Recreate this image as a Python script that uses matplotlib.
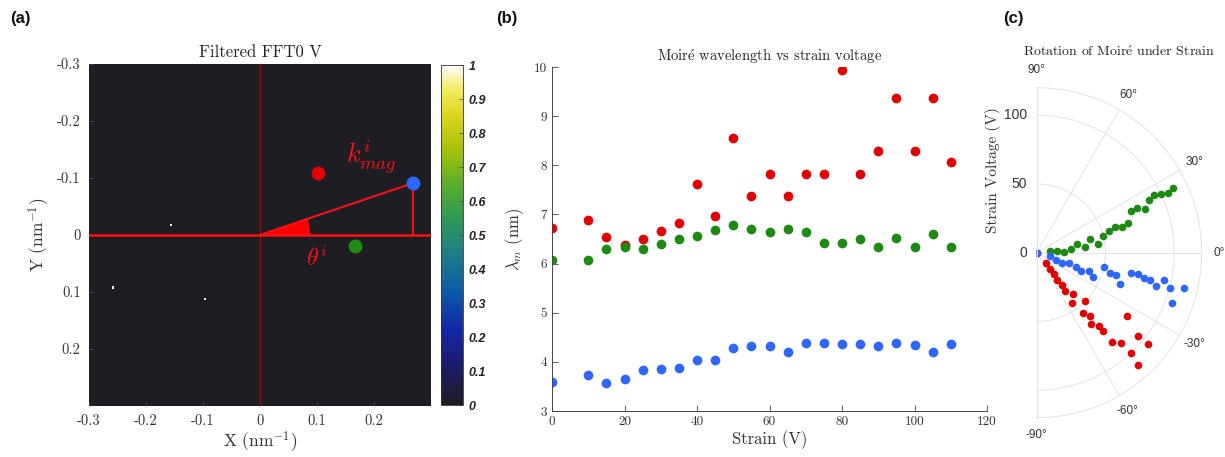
import numpy as np
import matplotlib
matplotlib.use("Agg")
import matplotlib.pyplot as plt
from matplotlib.colors import LinearSegmentedColormap
from matplotlib.patches import Wedge
from matplotlib.transforms import offset_copy

plt.rcParams['mathtext.fontset'] = 'cm'
plt.rcParams['axes.unicode_minus'] = False

SERIF = ['cmr10', 'DejaVu Serif']
SANS = 'Liberation Sans'

# ---------------- data ----------------
# panel (a): FFT peak positions (nm^-1)
white_x = [-0.156, -0.257, -0.0965]
white_y = [-0.017, 0.092, 0.112]
peak_x = [0.101, 0.269, 0.166]
peak_y = [-0.108, -0.0913, 0.019]
ticks_a = [-0.3, -0.2, -0.1, 0, 0.1, 0.2]
tick_labels_a = ['-0.3', '-0.2', '-0.1', '0', '0.1', '0.2']
cbar_ticks = [0, 0.1, 0.2, 0.3, 0.4, 0.5, 0.6, 0.7, 0.8, 0.9, 1]
cbar_labels = ['0', '0.1', '0.2', '0.3', '0.4', '0.5', '0.6', '0.7', '0.8', '0.9', '1']

# panel (b): wavelength vs strain
strain = [0, 10, 15, 20, 25, 30, 35, 40, 45, 50, 55, 60, 65, 70, 75, 80, 85, 90, 95, 100, 105, 110]
lam_red = [6.72, 6.88, 6.54, 6.38, 6.50, 6.67, 6.82, 7.62, 6.96, 8.56, 7.37, 7.82,
           7.37, 7.82, 7.82, 9.93, 7.82, 8.30, 9.37, 8.30, 9.37, 8.06]
lam_green = [6.08, 6.08, 6.30, 6.34, 6.30, 6.40, 6.50, 6.56, 6.69, 6.78, 6.71, 6.65,
             6.71, 6.65, 6.42, 6.42, 6.50, 6.33, 6.52, 6.33, 6.61, 6.33]
lam_blue = [3.60, 3.74, 3.57, 3.65, 3.84, 3.86, 3.88, 4.04, 4.03, 4.29, 4.32, 4.32,
            4.20, 4.39, 4.39, 4.37, 4.37, 4.32, 4.39, 4.34, 4.20, 4.37]

# panel (c): rotation angle (deg) vs strain
ang_green = [0, 8.5, 5.5, 0.7, 6.1, 12.5, 6.3, 14.3, 8.4, 14.3, 16.4, 18.4,
             16.4, 18.1, 23.6, 23.7, 21.9, 25.3, 26.3, 25.4, 24.5, 25.3]
ang_blue = [0, -15.4, -22.1, -21.9, -17.6, -19.7, -22.3, -19.4, -23.6, -11.7, -15.5, -15.9,
            -20.4, -12.2, -12.1, -13.4, -13.4, -15.8, -12.2, -14.7, -20.5, -13.4]
ang_red = [0, -46.0, -51.6, -51.9, -52.9, -51.9, -53.4, -48.2, -55.0, -45.2, -52.7, -49.9,
           -52.7, -49.8, -49.8, -34.9, -49.7, -46.8, -39.4, -46.8, -39.4, -48.2]
theta_ticks = [-90, -60, -30, 0, 30, 60, 90]
theta_labels = ['-90°', '-60°', '-30°', '0°', '30°', '60°', '90°']
r_ticks = [0, 50, 100]

RED = '#e00000'
GREEN = '#1e8a14'
BLUE = '#2f66ff'

cmap = LinearSegmentedColormap.from_list('fftmap', [
    (0.0, '#1e1d24'), (0.12, '#1c1b6e'), (0.22, '#1426a8'), (0.33, '#0b5aa8'),
    (0.45, '#1f7f86'), (0.55, '#2f9a52'), (0.65, '#5aae2a'), (0.75, '#a6c10a'),
    (0.85, '#dcd41c'), (0.93, '#f3ec60'), (1.0, '#ffffff')])

W, H = 1225, 457
fig = plt.figure(figsize=(W / 100, H / 100), dpi=100)

def fpos(x0, y0, x1, y1):
    return [x0 / W, 1 - y1 / H, (x1 - x0) / W, (y1 - y0) / H]

# ---------------- panel (a) ----------------
axa = fig.add_axes(fpos(89, 64, 431, 406))
N = 600
img = np.zeros((N, N))
for wx, wy in zip(white_x, white_y):
    i = int((wy + 0.3) / 0.6 * N)
    j = int((wx + 0.3) / 0.6 * N)
    img[i - 2:i + 2, j - 2:j + 2] = 1.0
im = axa.imshow(img, cmap=cmap, vmin=0, vmax=1, extent=[-0.3, 0.3, 0.3, -0.3],
                origin='upper', interpolation='nearest')
axa.set_xlim(-0.3, 0.3)
axa.set_ylim(0.3, -0.3)
axa.axvline(0, color='#b00000', lw=0.9)
axa.axhline(0, color='#ff1010', lw=1.8)
bx, by = peak_x[1], peak_y[1]
axa.plot([0, bx], [0, by], color='#ff1010', lw=1.5)
axa.plot([bx, bx], [by, 0], color='#ff1010', lw=1.5)
ang = np.degrees(np.arctan2(by, bx))
axa.add_patch(Wedge((0, 0), 0.088, ang, 0, color='#ff0000', lw=0))
for px, py, c in zip(peak_x, peak_y, ['#e00000', '#2f66ff', '#1e8a14']):
    axa.plot(px, py, 'o', color=c, ms=10, mec='none')
axa.text(0.195, -0.137, r'$k^{i}_{mag}$', color='#ff1010', fontsize=19, ha='center', va='center')
axa.text(0.1, 0.042, r'$\theta^{i}$', color='#ff1010', fontsize=17, ha='center', va='center')
axa.set_xticks(ticks_a)
axa.set_xticklabels(tick_labels_a, fontfamily=SERIF, fontsize=10.5, color='#333333')
axa.set_yticks(ticks_a)
axa.set_yticklabels(tick_labels_a, fontfamily=SERIF, fontsize=10.5, color='#333333')
axa.tick_params(direction='in', length=3, color='#555555', width=0.5, pad=6)
axa.set_xlabel(r'X (nm$^{-1}$)', fontfamily=SERIF, fontsize=12.5, color='#333333', labelpad=1)
axa.set_ylabel(r'Y (nm$^{-1}$)', fontfamily=SERIF, fontsize=12.5, color='#333333', labelpad=4)
axa.set_title('Filtered FFT0 V', fontfamily=SERIF, fontsize=12, color='#222222', pad=5)
for s in axa.spines.values():
    s.set_visible(False)

cax = fig.add_axes(fpos(441, 65, 463, 405))
cb = fig.colorbar(im, cax=cax, ticks=cbar_ticks)
cb.ax.set_yticklabels(cbar_labels, fontfamily=SANS, fontweight='bold', fontstyle='italic',
                      fontsize=9, color='#222222')
cb.ax.tick_params(direction='in', length=3, width=0.5, color='#444444', pad=4)
cb.outline.set_linewidth(0.6)
cb.outline.set_edgecolor('#333333')

# ---------------- panel (b) ----------------
axb = fig.add_axes(fpos(552, 67, 987, 411))
axb.plot(strain, lam_red, 'o', color=RED, ms=7, mec='none')
axb.plot(strain, lam_green, 'o', color=GREEN, ms=7, mec='none')
axb.plot(strain, lam_blue, 'o', color=BLUE, ms=7, mec='none')
axb.set_xlim(0, 120)
axb.set_ylim(3, 10)
axb.set_xticks([0, 20, 40, 60, 80, 100, 120])
axb.set_yticks([3, 4, 5, 6, 7, 8, 9, 10])
for lbl in axb.get_xticklabels() + axb.get_yticklabels():
    lbl.set_fontfamily(SERIF)
    lbl.set_fontsize(9.5)
    lbl.set_color('#333333')
axb.tick_params(direction='in', length=4, width=0.6, color='#444444')
axb.spines['top'].set_visible(False)
axb.spines['right'].set_visible(False)
for s in ['left', 'bottom']:
    axb.spines[s].set_color('#444444')
    axb.spines[s].set_linewidth(0.7)
axb.set_xlabel('Strain (V)', fontfamily=SERIF, fontsize=12, color='#333333', labelpad=2)
axb.set_ylabel(r'$\lambda_m$ (nm)', fontfamily=SERIF, fontsize=12, color='#333333', labelpad=6)
axb.set_title(r'Moir$\mathrm{\acute{e}}$ wavelength vs strain voltage', fontfamily=SERIF,
              fontsize=10.5, color='#222222', pad=4)

# ---------------- panel (c) ----------------
# square box whose middle half holds the half-disc (centre x=1036.7, R=165)
axc = fig.add_axes(fpos(954.2, 87.7, 1284.2, 417.7), projection='polar')
axc.set_thetamin(-90)
axc.set_thetamax(90)
axc.set_rlim(0, 120)
axc.plot(np.radians(ang_green), strain, 'o', color=GREEN, ms=5.5, mec='none')
axc.plot(np.radians(ang_red), strain, 'o', color=RED, ms=5.5, mec='none')
axc.plot(np.radians(ang_blue), strain, 'o', color=BLUE, ms=5.5, mec='none')
axc.set_thetagrids(theta_ticks, theta_labels, fontfamily=SANS, fontsize=8.5, color='#333333')
axc.tick_params(axis='x', pad=2)
axc.set_rticks(r_ticks)
axc.set_yticklabels([])
axc.grid(True, color='#e2e2e2', lw=0.7)
for s in axc.spines.values():
    s.set_color('#e2e2e2')
    s.set_linewidth(0.7)
tr = offset_copy(axc.transData, fig=fig, x=-7, y=0, units='points')
for r in r_ticks:
    axc.text(np.pi / 2, r, str(r), transform=tr, ha='right', va='center',
             fontfamily=SANS, fontsize=10, color='#333333')
fig.text(993 / W, 1 - 170 / H, 'Strain Voltage (V)', rotation=90, ha='center', va='center',
         fontfamily=SERIF, fontsize=11, color='#333333')
fig.text(1119 / W, 1 - 52 / H, r'Rotation of Moir$\mathrm{\acute{e}}$ under Strain',
         ha='center', va='center', fontfamily=SERIF, fontsize=10, color='#222222')

# panel labels
for x, lab in [(10, '(a)'), (496, '(b)'), (1003, '(c)')]:
    fig.text(x / W, 1 - 18 / H, lab, ha='left', va='center', fontfamily=SANS,
             fontweight='bold', fontsize=12, color='#111111')

fig.savefig('out.png', dpi=100)
